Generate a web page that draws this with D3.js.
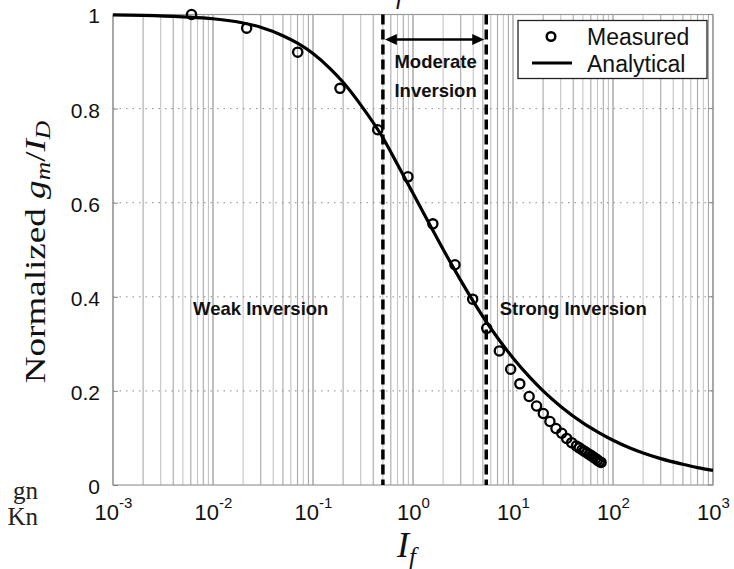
<!DOCTYPE html>
<html><head><meta charset="utf-8">
<script src="https://cdn.jsdelivr.net/npm/d3@7"></script>
<style>body{margin:0;background:#fff}svg{display:block}</style>
</head><body>
<svg id="c" width="734" height="569"></svg>
<script>
// ---- data ----
const xTickValues = [1e-3, 1e-2, 1e-1, 1e0, 1e1, 1e2, 1e3];
const xTickExps = ["-3", "-2", "-1", "0", "1", "2", "3"];
const yTickValues = [0, 0.2, 0.4, 0.6, 0.8, 1];
const yTickLabels = ["0", "0.2", "0.4", "0.6", "0.8", "1"];

const analyticalIf = [0.001,0.002,0.005,0.01,0.02,0.03,0.05,0.07,0.1,0.15,0.2,0.3,0.5,0.7,1,1.5,2,3,5,7,10,15,20,30,50,70,100,150,200,300,500,700,1000];
const analyticalGm = [0.999,0.998,0.995,0.991,0.982,0.973,0.955,0.939,0.917,0.884,0.856,0.808,0.738,0.681,0.620,0.550,0.501,0.435,0.358,0.313,0.270,0.227,0.200,0.167,0.132,0.113,0.095,0.078,0.068,0.056,0.044,0.037,0.031];

const measuredIf = [0.0061,0.0217,0.0703,0.186,0.444,0.89,1.58,2.63,3.95,5.46,7.3,9.48,11.7,14.5,17.2,20.1,23.4,26.9,30.7,34.4,38.6,43,46,49,52,55,58,61,64,67,70,73,76];
const measuredGm = [1.0,0.971,0.920,0.843,0.755,0.655,0.555,0.468,0.395,0.333,0.285,0.246,0.215,0.188,0.168,0.152,0.135,0.120,0.110,0.099,0.090,0.083,0.079,0.075,0.0715,0.068,0.065,0.062,0.059,0.056,0.053,0.050,0.048];

const regionBounds = [0.5, 5.4];
const regionLabels = ["Weak Inversion", "Strong Inversion"];
const regionLabelX = [0.03, 40];
const moderateLabel = ["Moderate", "Inversion"];
const legendLabels = ["Measured", "Analytical"];

// ---- drawing ----
const svg = d3.select("#c");
const L = 113, R = 713, T = 14.5, B = 485;
const x = d3.scaleLog().domain([1e-3, 1e3]).range([L, R]);
const y = d3.scaleLinear().domain([0, 1]).range([B, T]);

const sans = "'Liberation Sans', Arial, sans-serif";
const serif = "'Liberation Serif', 'Times New Roman', serif";

// vertical grid (log minor + major)
const vgrid = [];
for (let e = -3; e < 3; e++) for (let m = 1; m <= 9; m++) vgrid.push(m * Math.pow(10, e));
vgrid.push(1e3);
svg.append("g").selectAll("line").data(vgrid).join("line")
  .attr("x1", d => x(d)).attr("x2", d => x(d))
  .attr("y1", T).attr("y2", B)
  .attr("stroke", (d, i) => (i % 9 === 0) ? "#8a8a8a" : (i % 2 ? "#a8a8a8" : "#c4c4c4"))
  .attr("stroke-width", 1.1);

// horizontal dotted grid
svg.append("g").selectAll("line").data(yTickValues.slice(1, -1)).join("line")
  .attr("x1", L).attr("x2", R)
  .attr("y1", d => y(d)).attr("y2", d => y(d))
  .attr("stroke", "#8a8a8a").attr("stroke-width", 1)
  .attr("stroke-dasharray", "1.5,5");

// frame
svg.append("rect").attr("x", L).attr("y", T).attr("width", R - L).attr("height", B - T)
  .attr("fill", "none").attr("stroke", "#9a9a9a").attr("stroke-width", 1.2);

// y ticks inside
const yAxis = d3.axisLeft(y).tickValues(yTickValues).tickSize(-5).tickFormat((d, i) => yTickLabels[i]).tickPadding(13);
const gy = svg.append("g").attr("transform", `translate(${L},0)`).call(yAxis);
gy.select(".domain").remove();
gy.selectAll(".tick line").attr("stroke", "#888");
gy.selectAll(".tick text").attr("font-family", sans).attr("font-size", 21).attr("fill", "#111").attr("dy", "0.4em");
svg.append("g").selectAll("line").data(yTickValues).join("line")
  .attr("x1", R).attr("x2", R - 5).attr("y1", d => y(d)).attr("y2", d => y(d)).attr("stroke", "#888");

// x tick labels
const xAxis = d3.axisBottom(x).tickValues(xTickValues).tickSize(0).tickFormat("");
const gx = svg.append("g").attr("transform", `translate(0,${B})`).call(xAxis);
gx.select(".domain").remove();
gx.selectAll(".tick").each(function (d, i) {
  const t = d3.select(this).append("text").attr("y", 35).attr("fill", "#111")
    .attr("font-family", sans).attr("font-size", 22).attr("text-anchor", "middle");
  t.append("tspan").text("10");
  t.append("tspan").attr("font-size", 15).attr("dy", -12).text(xTickExps[i]);
});

// region dashed lines
svg.append("g").selectAll("line").data(regionBounds).join("line")
  .attr("x1", d => x(d)).attr("x2", d => x(d)).attr("y1", T).attr("y2", B)
  .attr("stroke", "#000").attr("stroke-width", 3.5).attr("stroke-dasharray", "10,5");

// double arrow
const ay = 39.5;
const ax1 = x(regionBounds[0]) + 2, ax2 = x(regionBounds[1]) - 2;
svg.append("line").attr("x1", ax1 + 8).attr("x2", ax2 - 8).attr("y1", ay).attr("y2", ay)
  .attr("stroke", "#000").attr("stroke-width", 2.5);
svg.append("path").attr("d", `M${ax1},${ay} L${ax1 + 12},${ay - 5.5} L${ax1 + 12},${ay + 5.5} Z`).attr("fill", "#000");
svg.append("path").attr("d", `M${ax2},${ay} L${ax2 - 12},${ay - 5.5} L${ax2 - 12},${ay + 5.5} Z`).attr("fill", "#000");

const midX = (x(regionBounds[0]) + x(regionBounds[1])) / 2;
svg.append("g").selectAll("text").data(moderateLabel).join("text")
  .attr("x", midX + 1).attr("y", (d, i) => 68 + i * 28.5)
  .attr("text-anchor", "middle").attr("font-family", sans).attr("font-weight", "bold")
  .attr("font-size", 18.5).attr("fill", "#111").text(d => d);

svg.append("g").selectAll("text").data(regionLabels).join("text")
  .attr("x", (d, i) => x(regionLabelX[i])).attr("y", 315)
  .attr("text-anchor", "middle").attr("font-family", sans).attr("font-weight", "bold")
  .attr("font-size", 18.5).attr("fill", "#111").text(d => d);

// analytical curve
const line = d3.line().x((d, i) => x(analyticalIf[i])).y(d => y(d)).curve(d3.curveMonotoneX);
svg.append("path").datum(analyticalGm).attr("d", line)
  .attr("fill", "none").attr("stroke", "#000").attr("stroke-width", 3.2);

// measured circles
svg.append("g").selectAll("circle").data(measuredGm).join("circle")
  .attr("cx", (d, i) => x(measuredIf[i])).attr("cy", d => y(d)).attr("r", 4.6)
  .attr("fill", "none").attr("stroke", "#000").attr("stroke-width", 2.3);

// legend
const lg = svg.append("g");
lg.append("rect").attr("x", 518).attr("y", 20.5).attr("width", 189).attr("height", 58)
  .attr("fill", "#fff").attr("stroke", "#222").attr("stroke-width", 1.3);
lg.append("circle").attr("cx", 551).attr("cy", 36.5).attr("r", 4.3)
  .attr("fill", "none").attr("stroke", "#000").attr("stroke-width", 2.5);
lg.append("line").attr("x1", 532).attr("x2", 572).attr("y1", 63).attr("y2", 63)
  .attr("stroke", "#000").attr("stroke-width", 3);
lg.selectAll("text").data(legendLabels).join("text")
  .attr("x", 587).attr("y", (d, i) => 45 + i * 27)
  .attr("font-family", sans).attr("font-size", 23).attr("fill", "#111").text(d => d);

// y label (stretched along its length like the reference)
const yl = svg.append("text").attr("transform", "translate(45,252) rotate(-90) scale(1.28,1)")
  .attr("text-anchor", "middle").attr("font-family", serif).attr("font-size", 29).attr("fill", "#111");
yl.append("tspan").text("Normalized ");
yl.append("tspan").attr("font-style", "italic").text("g");
yl.append("tspan").attr("font-style", "italic").attr("font-size", 20).attr("dy", 5).text("m");
yl.append("tspan").attr("dy", -5).text("/");
yl.append("tspan").attr("font-style", "italic").text("I");
yl.append("tspan").attr("font-style", "italic").attr("font-size", 20).attr("dy", 5).text("D");

// x label
const xl = svg.append("text").attr("x", 397).attr("y", 557)
  .attr("font-family", serif).attr("font-style", "italic").attr("font-size", 36).attr("fill", "#111");
xl.append("tspan").text("I");
xl.append("tspan").attr("font-size", 25).attr("dy", 8).text("f");

// cropped remnants
svg.append("text").attr("x", 396).attr("y", 4).attr("font-family", serif).attr("font-style", "italic")
  .attr("font-size", 26).attr("fill", "#111").text("f");
svg.append("text").attr("x", 38).attr("y", 499).attr("text-anchor", "end").attr("font-family", serif)
  .attr("font-size", 25).attr("fill", "#222").text("gn");
svg.append("text").attr("x", 38).attr("y", 525).attr("text-anchor", "end").attr("font-family", serif)
  .attr("font-size", 25).attr("fill", "#222").text("Kn");
</script>
</body></html>
